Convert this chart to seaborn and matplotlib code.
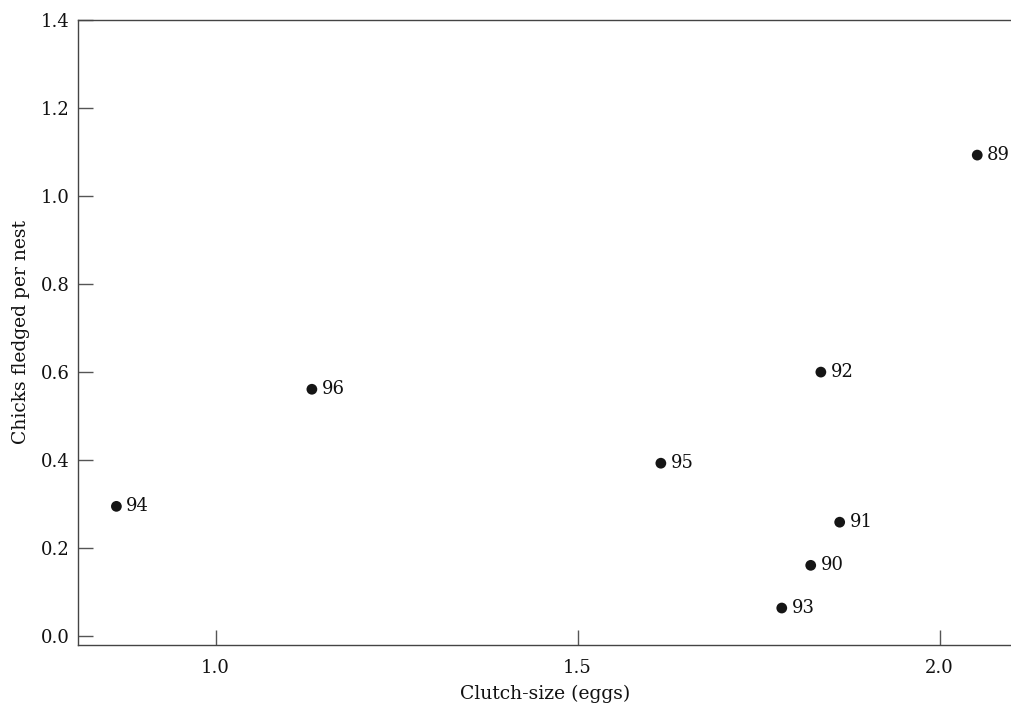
import matplotlib
matplotlib.use("Agg")
import matplotlib.pyplot as plt
import seaborn as sns
import pandas as pd

# 数据
years = ["89", "90", "91", "92", "93", "94", "95", "96"]
clutch = [2.052, 1.822, 1.862, 1.836, 1.782, 0.863, 1.615, 1.133]
fledged = [1.093, 0.161, 0.259, 0.600, 0.064, 0.295, 0.393, 0.561]

df = pd.DataFrame({"year": years, "clutch": clutch, "fledged": fledged})

sns.set_theme(style="white")
plt.rcParams['font.family'] = ['DejaVu Serif']

fig = plt.figure(figsize=(10.12, 7.03), dpi=100)
ax = fig.add_axes([0.0771, 0.0825, 0.9229, 0.8891])

sns.scatterplot(data=df, x="clutch", y="fledged", color="#151515",
                s=60, edgecolor="none", ax=ax, legend=False)

for _, r in df.iterrows():
    ax.annotate(r["year"], (r["clutch"], r["fledged"]), xytext=(7, 0),
                textcoords="offset points", va="center", ha="left",
                fontsize=13, color="#111111")

ax.set_xlim(0.81, 2.1)
ax.set_ylim(-0.02, 1.4)
ax.set_xticks([1.0, 1.5, 2.0])
ax.set_xticklabels(["1.0", "1.5", "2.0"])
ax.set_yticks([0.0, 0.2, 0.4, 0.6, 0.8, 1.0, 1.2, 1.4])
ax.set_yticklabels([f"{v:.1f}" for v in [0.0, 0.2, 0.4, 0.6, 0.8, 1.0, 1.2, 1.4]])

ax.set_xlabel("Clutch-size (eggs)", fontsize=13.5, color="#111111", labelpad=6)
ax.set_ylabel("Chicks fledged per nest", fontsize=13.5, color="#111111", labelpad=8)

for side in ["left", "bottom", "top"]:
    ax.spines[side].set_color("#444444")
    ax.spines[side].set_linewidth(1.0)
ax.spines["right"].set_visible(False)

ax.tick_params(axis="both", direction="in", length=11, width=1.0,
               color="#555555", labelsize=13, labelcolor="#111111",
               left=True, bottom=True)
ax.tick_params(axis="x", pad=10)
ax.tick_params(axis="y", pad=6)

fig.savefig("out.png", dpi=100)
